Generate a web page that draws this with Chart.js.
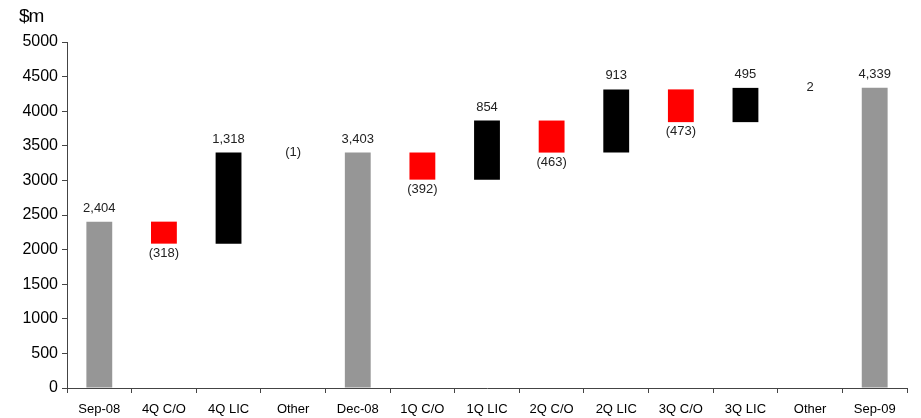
<!DOCTYPE html>
<html>
<head>
<meta charset="utf-8">
<script src="https://cdn.jsdelivr.net/npm/chart.js@4"></script>
<style>
  html, body { margin: 0; padding: 0; background: #fff; }
  #wrap { position: relative; width: 921px; height: 418px; }
  #unit { position: absolute; left: 19px; top: 5px; font: 19px "Liberation Sans", Arial, sans-serif; color: #000; letter-spacing: -1px; }
</style>
</head>
<body>
<div id="wrap">
  <canvas id="chart" width="921" height="418"></canvas>
  <div id="unit">$m</div>
</div>
<script>
const categories = ["Sep-08", "4Q C/O", "4Q LIC", "Other", "Dec-08", "1Q C/O", "1Q LIC",
  "2Q C/O", "2Q LIC", "3Q C/O", "3Q LIC", "Other", "Sep-09"];
const values = [2404, -318, 1318, -1, 3403, -392, 854, -463, 913, -473, 495, 2, 4339];
const isTotal = [true, false, false, false, true, false, false, false, false, false, false, false, true];
const yTicks = [0, 500, 1000, 1500, 2000, 2500, 3000, 3500, 4000, 4500, 5000];

// build floating ranges for the waterfall
const ranges = [];
const colors = [];
let running = 0;
values.forEach((v, i) => {
  if (isTotal[i]) {
    ranges.push([0, v]);
    colors.push("#969696");
    running = v;
  } else {
    ranges.push([running, running + v]);
    colors.push(Math.abs(v) < 10 ? "rgba(0,0,0,0)" : v < 0 ? "#ff0000" : "#000000");
    running += v;
  }
});

function fmt(v) {
  const s = Math.abs(v).toLocaleString("en-US");
  return v < 0 ? "(" + s + ")" : s;
}

const labelPlugin = {
  id: "wfLabels",
  afterDatasetsDraw(chart) {
    const ctx = chart.ctx;
    const meta = chart.getDatasetMeta(0);
    const y = chart.scales.y;
    ctx.save();
    ctx.font = '13px "Liberation Sans", Arial, sans-serif';
    ctx.fillStyle = "#222";
    ctx.textAlign = "center";
    meta.data.forEach((bar, i) => {
      const v = values[i];
      const [lo, hi] = ranges[i];
      const top = y.getPixelForValue(Math.max(lo, hi));
      const bottom = y.getPixelForValue(Math.min(lo, hi));
      if (!isTotal[i] && Math.abs(v) < 10) {
        ctx.textBaseline = "middle";
        ctx.fillText(fmt(v), bar.x, (top + bottom) / 2);
      } else if (v < 0) {
        ctx.textBaseline = "top";
        ctx.fillText(fmt(v), bar.x, bottom + 3);
      } else {
        ctx.textBaseline = "bottom";
        ctx.fillText(fmt(v), bar.x, top - 7);
      }
    });
    ctx.restore();
  }
};

new Chart(document.getElementById("chart"), {
  type: "bar",
  data: {
    labels: categories,
    datasets: [{
      data: ranges,
      backgroundColor: colors,
      borderWidth: 0,
      barPercentage: 0.4,
      categoryPercentage: 1.0
    }]
  },
  options: {
    responsive: false,
    animation: false,
    layout: { padding: { top: 42, right: 14, left: 0, bottom: 0 } },
    plugins: { legend: { display: false }, tooltip: { enabled: false } },
    scales: {
      y: {
        min: 0,
        max: 5000,
        afterBuildTicks(scale) { scale.ticks = yTicks.map(v => ({ value: v })); },
        afterFit(scale) { scale.width = 67; },
        border: { color: "#444", width: 1 },
        grid: { drawOnChartArea: false, tickLength: 5, color: "#444" },
        ticks: {
          color: "#000",
          padding: 4,
          callback: v => String(v),
          font: { size: 16, family: '"Liberation Sans", Arial, sans-serif' }
        }
      },
      x: {
        afterFit(scale) { scale.height = 30; },
        border: { color: "#444", width: 1 },
        grid: { drawOnChartArea: false, tickLength: 5, color: "#444", offset: true },
        ticks: {
          color: "#000",
          padding: 9,
          maxRotation: 0,
          autoSkip: false,
          font: { size: 13, family: '"Liberation Sans", Arial, sans-serif' }
        }
      }
    }
  },
  plugins: [labelPlugin]
});
</script>
</body>
</html>
